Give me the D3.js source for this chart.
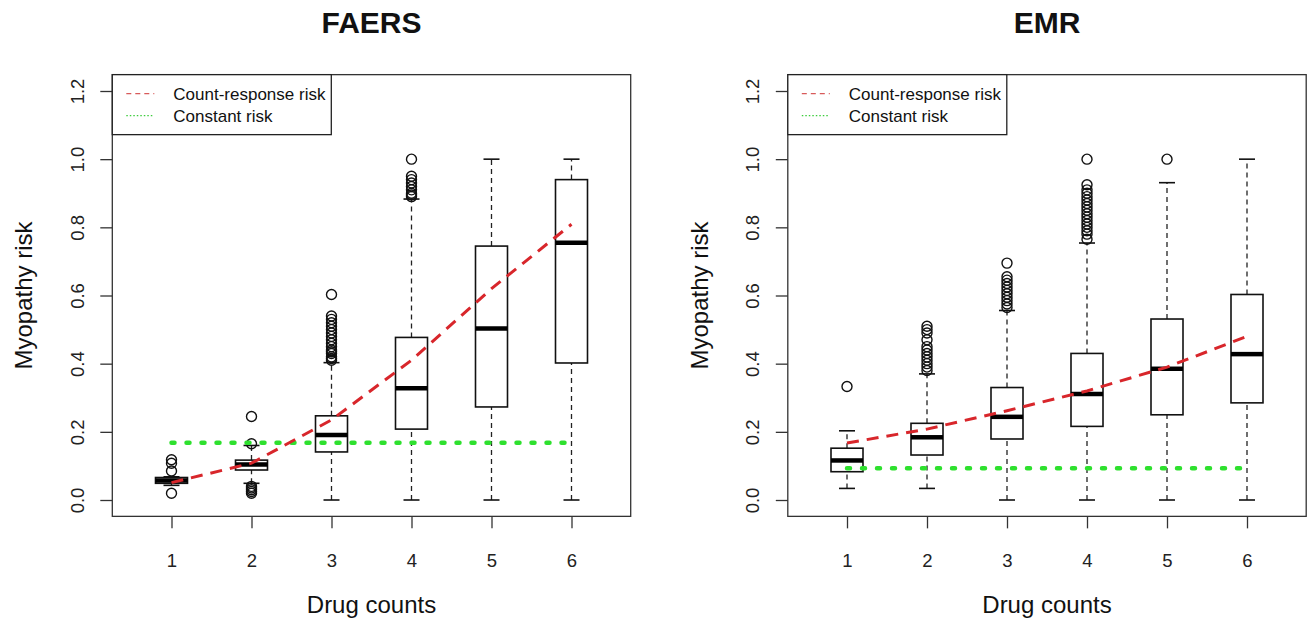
<!DOCTYPE html>
<html>
<head>
<meta charset="utf-8">
<script src="https://cdn.jsdelivr.net/npm/d3@7"></script>
<style>
  body { margin: 0; background: #fff; }
  text { font-family: "Liberation Sans", Arial, sans-serif; fill: #111; }
</style>
</head>
<body>
<div id="chart"></div>
<script>
// drug count categories
var drugCounts = [1, 2, 3, 4, 5, 6];
var yTicks = [0, 0.2, 0.4, 0.6, 0.8, 1.0, 1.2];

// FAERS box stats
var faersLow = [0.043, 0.049, 0, 0, 0, 0];
var faersQ1 = [0.049, 0.088, 0.141, 0.208, 0.273, 0.402];
var faersMedian = [0.057, 0.104, 0.191, 0.328, 0.503, 0.755];
var faersQ3 = [0.066, 0.117, 0.247, 0.477, 0.745, 0.940];
var faersHigh = [0.068, 0.160, 0.403, 0.883, 1.0, 1.0];
var faersOutliers = [
    [0.02, 0.085, 0.108, 0.118],
    [0.02, 0.025, 0.03, 0.035, 0.04, 0.165, 0.245],
    [0.41, 0.415, 0.42, 0.43, 0.435, 0.44, 0.45, 0.46, 0.47, 0.48, 0.49, 0.50, 0.51, 0.52, 0.53, 0.54, 0.603],
    [0.89, 0.895, 0.90, 0.91, 0.92, 0.93, 0.94, 0.95, 1.0],
    [],
    []
];
var faersCountResponse = [0.051, 0.108, 0.235, 0.41, 0.62, 0.809];
var faersConstant = 0.168;

// EMR box stats
var emrLow = [0.034, 0.034, 0, 0, 0, 0];
var emrQ1 = [0.083, 0.132, 0.179, 0.216, 0.25, 0.285];
var emrMedian = [0.116, 0.184, 0.244, 0.311, 0.385, 0.428];
var emrQ3 = [0.152, 0.225, 0.33, 0.43, 0.531, 0.603];
var emrHigh = [0.203, 0.37, 0.556, 0.754, 0.931, 1.0];
var emrOutliers = [
    [0.333],
    [0.38, 0.39, 0.40, 0.41, 0.42, 0.43, 0.44, 0.45, 0.47, 0.49, 0.50, 0.51],
    [0.565, 0.575, 0.585, 0.595, 0.605, 0.615, 0.625, 0.635, 0.645, 0.655, 0.695],
    [0.765, 0.78, 0.79, 0.80, 0.81, 0.82, 0.83, 0.84, 0.85, 0.86, 0.87, 0.88, 0.89, 0.90, 0.91, 0.925, 1.0],
    [1.0],
    []
];
var emrCountResponse = [0.167, 0.208, 0.262, 0.32, 0.39, 0.48];
var emrConstant = 0.093;

var legendLabels = ["Count-response risk", "Constant risk"];

var width = 1316, height = 629;
var svg = d3.select("#chart").append("svg").attr("width", width).attr("height", height);

function drawPanel(opt) {
    var x = d3.scaleLinear().domain([1, 6]).range([opt.left + 59.5, opt.left + 459.5]);
    var y = d3.scaleLinear().domain([0, 1.2]).range([500, 91]);
    var x0 = x(0.26), x1 = x(6.74), y0 = y(-0.048), y1 = y(1.248);
    var g = svg.append("g");
    var boxW = x(1.4) - x(1);

    // title
    g.append("text").attr("x", (x0 + x1) / 2).attr("y", 33)
        .attr("text-anchor", "middle").style("font-size", "30px").style("font-weight", "bold")
        .text(opt.title);

    // axes
    var axisY = d3.axisLeft(y).tickValues(yTicks).tickSize(12).tickPadding(0)
        .tickFormat(d3.format(".1f"));
    var ay = g.append("g").attr("transform", "translate(" + x0 + ",0)").call(axisY);
    ay.select(".domain").remove();
    ay.selectAll(".tick line").attr("stroke", "#333").attr("stroke-width", 1.3);
    ay.selectAll(".tick text")
        .attr("transform", "rotate(-90)").attr("x", 0).attr("y", -35)
        .attr("dy", "0.35em").attr("text-anchor", "middle")
        .style("font-size", "18.5px").style("font-family", "Liberation Sans, Arial").style("fill", "#222");

    var axisX = d3.axisBottom(x).tickValues(drugCounts).tickSize(12).tickPadding(0)
        .tickFormat(d3.format("d"));
    var ax = g.append("g").attr("transform", "translate(0," + y0 + ")").call(axisX);
    ax.select(".domain").remove();
    ax.selectAll(".tick line").attr("stroke", "#333").attr("stroke-width", 1.3);
    ax.selectAll(".tick text").attr("y", 51).attr("dy", "0").attr("text-anchor", "middle")
        .style("font-size", "18.5px").style("font-family", "Liberation Sans, Arial").style("fill", "#222");

    g.append("text").attr("x", (x0 + x1) / 2).attr("y", 613).attr("text-anchor", "middle")
        .style("font-size", "24px").text("Drug counts");
    g.append("text").attr("transform", "translate(" + (x0 - 80) + "," + ((y0 + y1) / 2) + ") rotate(-90)")
        .attr("text-anchor", "middle").style("font-size", "24px").text("Myopathy risk");

    // whiskers
    var idx = d3.range(drugCounts.length);
    g.selectAll(".whiskLow").data(idx).enter().append("line")
        .attr("x1", i => x(drugCounts[i])).attr("x2", i => x(drugCounts[i]))
        .attr("y1", i => y(opt.low[i])).attr("y2", i => y(opt.q1[i]))
        .attr("stroke", "#222").attr("stroke-width", 1.3).attr("stroke-dasharray", "5,4");
    g.selectAll(".whiskHigh").data(idx).enter().append("line")
        .attr("x1", i => x(drugCounts[i])).attr("x2", i => x(drugCounts[i]))
        .attr("y1", i => y(opt.q3[i])).attr("y2", i => y(opt.high[i]))
        .attr("stroke", "#222").attr("stroke-width", 1.3).attr("stroke-dasharray", "5,4");
    [opt.low, opt.high].forEach(function (arr) {
        g.selectAll(null).data(idx).enter().append("line")
            .attr("x1", i => x(drugCounts[i]) - boxW / 4).attr("x2", i => x(drugCounts[i]) + boxW / 4)
            .attr("y1", i => y(arr[i])).attr("y2", i => y(arr[i]))
            .attr("stroke", "#111").attr("stroke-width", 1.6);
    });

    // boxes
    g.selectAll(".box").data(idx).enter().append("rect")
        .attr("x", i => x(drugCounts[i]) - boxW / 2).attr("width", boxW)
        .attr("y", i => y(opt.q3[i])).attr("height", i => y(opt.q1[i]) - y(opt.q3[i]))
        .attr("fill", "white").attr("stroke", "#111").attr("stroke-width", 1.6);
    g.selectAll(".med").data(idx).enter().append("line")
        .attr("x1", i => x(drugCounts[i]) - boxW / 2).attr("x2", i => x(drugCounts[i]) + boxW / 2)
        .attr("y1", i => y(opt.median[i])).attr("y2", i => y(opt.median[i]))
        .attr("stroke", "#000").attr("stroke-width", 4.5);

    // outliers
    var pts = [];
    opt.outliers.forEach(function (arr, i) {
        arr.forEach(function (v) { pts.push({ c: drugCounts[i], v: v }); });
    });
    g.selectAll(".out").data(pts).enter().append("circle")
        .attr("cx", d => x(d.c)).attr("cy", d => y(d.v)).attr("r", 5)
        .attr("fill", "none").attr("stroke", "#111").attr("stroke-width", 1.4);

    // risk lines
    var line = d3.line().x((d, i) => x(drugCounts[i])).y(d => y(d));
    g.append("path").datum(drugCounts.map(() => opt.constant)).attr("d", line)
        .attr("fill", "none").attr("stroke", "#2ee02e").attr("stroke-width", 4.5)
        .attr("stroke-linecap", "round").attr("stroke-dasharray", "3,12");
    g.append("path").datum(opt.countResponse).attr("d", line)
        .attr("fill", "none").attr("stroke", "#d8262b").attr("stroke-width", 3)
        .attr("stroke-dasharray", "12,8");

    // frame
    g.append("rect").attr("x", x0).attr("y", y1).attr("width", x1 - x0).attr("height", y0 - y1)
        .attr("fill", "none").attr("stroke", "#333").attr("stroke-width", 1.3);

    // legend
    var lg = g.append("g");
    lg.append("rect").attr("x", x0).attr("y", y1).attr("width", 219).attr("height", 60)
        .attr("fill", "white").attr("stroke", "#222").attr("stroke-width", 1.3);
    var legColors = ["#d85a5a", "#3ccc3c"], legDash = ["5,4", "1.5,2"];
    legendLabels.forEach(function (lbl, i) {
        var ly = y1 + 19 + i * 22;
        lg.append("line").attr("x1", x0 + 14).attr("x2", x0 + 42).attr("y1", ly).attr("y2", ly)
            .attr("stroke", legColors[i]).attr("stroke-width", 1.2).attr("stroke-dasharray", legDash[i]);
        lg.append("text").attr("x", x0 + 61).attr("y", ly).attr("dy", "0.35em")
            .style("font-size", "17px").text(lbl);
    });
}

drawPanel({
    title: "FAERS", left: 112,
    low: faersLow, q1: faersQ1, median: faersMedian, q3: faersQ3, high: faersHigh,
    outliers: faersOutliers, countResponse: faersCountResponse, constant: faersConstant
});
drawPanel({
    title: "EMR", left: 787.5,
    low: emrLow, q1: emrQ1, median: emrMedian, q3: emrQ3, high: emrHigh,
    outliers: emrOutliers, countResponse: emrCountResponse, constant: emrConstant
});
</script>
</body>
</html>
